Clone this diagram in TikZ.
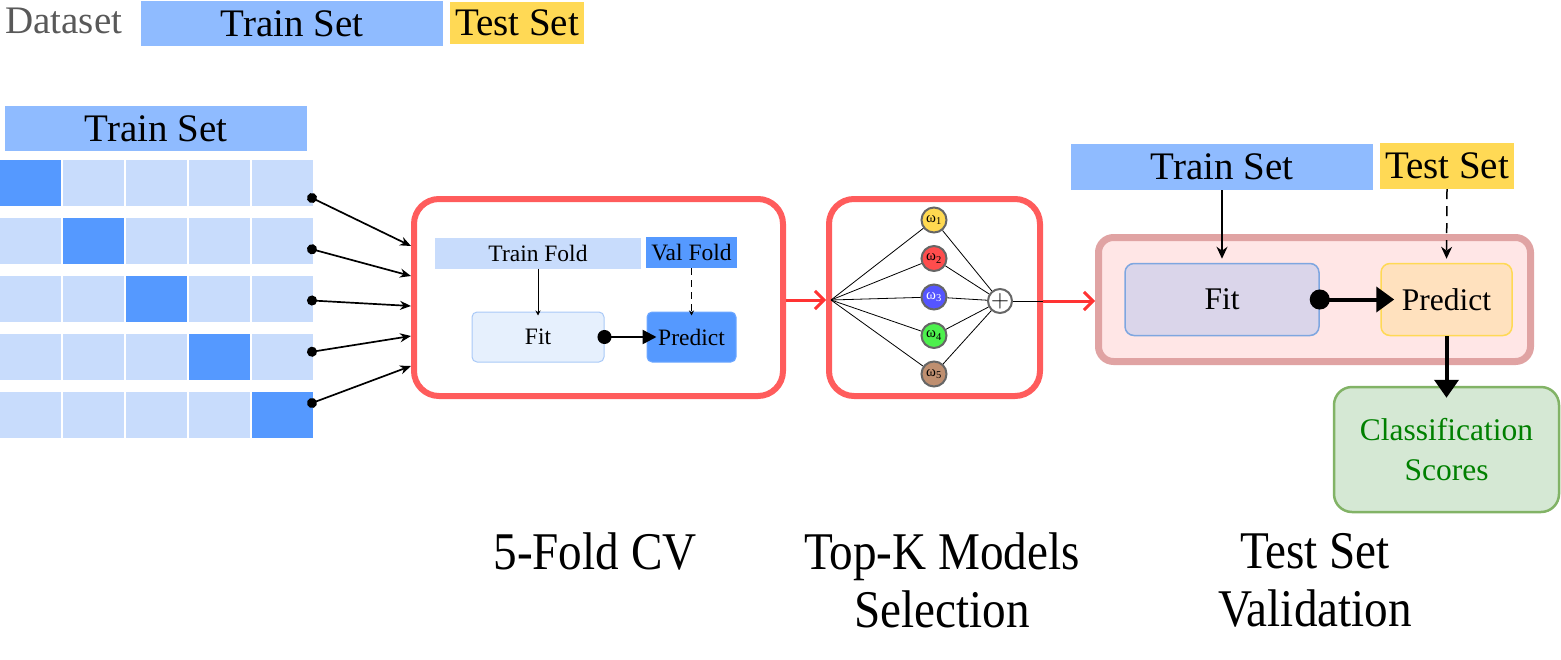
\documentclass[tikz,border=0pt]{standalone}
\usepackage{fontspec}
\setmainfont{Liberation Serif}
\newfontfamily\narrowserif[FakeStretch=0.89]{Liberation Serif}
\usetikzlibrary{arrows.meta, positioning, calc}

\definecolor{trainblue}{RGB}{143,187,255}
\definecolor{foldlight}{RGB}{200,220,252}
\definecolor{folddark}{RGB}{85,153,255}
\definecolor{testyellow}{RGB}{255,217,85}
\definecolor{stagered}{RGB}{255,92,92}
\definecolor{flowred}{RGB}{255,51,51}
\definecolor{evalfill}{RGB}{255,230,230}
\definecolor{evalborder}{RGB}{224,163,163}
\definecolor{fitfill}{RGB}{230,240,253}
\definecolor{fitborder}{RGB}{169,201,247}
\definecolor{lavender}{RGB}{218,213,234}
\definecolor{lavborder}{RGB}{126,166,224}
\definecolor{peach}{RGB}{255,225,190}
\definecolor{scorefill}{RGB}{213,232,212}
\definecolor{scoreborder}{RGB}{130,179,102}
\definecolor{scoretext}{RGB}{0,128,0}
\definecolor{mYellow}{RGB}{255,217,80}
\definecolor{mRed}{RGB}{255,77,77}
\definecolor{mBlue}{RGB}{85,85,255}
\definecolor{mGreen}{RGB}{77,240,77}
\definecolor{mBrown}{RGB}{191,143,112}

\begin{document}
\begin{tikzpicture}[x=1pt, y=-1pt,
    bar/.style={inner sep=0pt, font=\fontsize{39}{39}\selectfont},
    cell/.style={minimum width=61pt, minimum height=46pt, inner sep=0pt},
    stage/.style={draw=stagered, line width=6pt, rounded corners=25pt, minimum height=197pt},
    smallbox/.style={inner sep=0pt, minimum height=31pt, font=\fontsize{23.5}{24}\selectfont},
    bigbox/.style={inner sep=0pt, minimum height=72pt, rounded corners=9pt, line width=1.5pt, font=\fontsize{31.5}{32}\selectfont},
    model/.style={circle, draw=black!60, line width=2pt, minimum size=25pt, inner sep=0pt, font=\fontsize{15}{15}\selectfont},
    flow/.style={draw=flowred, line width=3pt, -{Straight Barb[length=9pt, width=18pt]}},
    caption/.style={font=\narrowserif\fontsize{53}{58}\selectfont, align=center, anchor=north, inner sep=0pt},
]
    \useasboundingbox (0,0) rectangle (1561,659);

    % Dataset split
    \node[anchor=base west, inner sep=0pt, text=black!65, font=\fontsize{39}{39}\selectfont] (dsLabel) at (5,33) {Dataset};
    \node[bar, fill=trainblue, minimum width=302pt, minimum height=45pt] (dsTrain) at (292,23.5) {Train Set};
    \node[bar, fill=testyellow, minimum width=134pt, minimum height=42pt] (dsTest) at (517,23) {Test Set};

    % Train set cut into 5 folds
    \node[bar, fill=trainblue, minimum width=302pt, minimum height=45pt] (cvTrain) at (156,128.5) {Train Set};
    \foreach \r in {1,...,5} {
        \foreach \c in {1,...,5} {
            \ifnum\r=\c \def\shade{folddark}\else\def\shade{foldlight}\fi
            \node[cell, fill=\shade] (cell-\r-\c) at ({30+63*(\c-1)}, {183+58*(\r-1)}) {};
        }
    }

    % Stage 1: 5-fold CV
    \node[stage, minimum width=369pt] (cv) at (598.5,297.5) {};
    \node[smallbox, fill=foldlight, minimum width=206pt] (trainFold) at (538,253) {Train Fold};
    \node[smallbox, fill=folddark, minimum width=91pt] (valFold) at (691.5,252.5) {Val Fold};
    \node[smallbox, minimum width=132pt, minimum height=50pt, fill=fitfill, draw=fitborder, line width=1pt, rounded corners=5pt] (cvFit) at (538,337) {Fit};
    \node[smallbox, minimum width=89pt, minimum height=50pt, fill=folddark, draw=folddark!85!white, line width=1pt, rounded corners=5pt] (cvPredict) at (691.5,337) {Predict};

    % folds into stage 1
    \foreach \r in {1,...,5} {
        \coordinate (src-\r) at (312, {198+51.25*(\r-1)});
        \draw[line width=1.7pt, {Circle[length=10pt]}-{Stealth[length=11pt, width=9pt]}, shorten <=-5pt]
            (src-\r) -- ([yshift={51.5pt-30pt*(\r-1)}]cv.west);
    }
    \draw[line width=1pt, -{Stealth[length=5pt, width=5pt]}, shorten >=-4pt] (trainFold.south) -- (cvFit.north);
    \draw[line width=1pt, dash pattern=on 7pt off 5pt, -{Stealth[length=5pt, width=5pt]}, shorten >=-4pt] (valFold.south) -- (cvPredict.north);
    \draw[line width=2.5pt, {Circle[length=14pt]}-{Triangle[length=14pt, width=14pt]}, shorten <=-7pt, shorten >=-10pt] (cvFit) -- (cvPredict);

    % Stage 2: top-K models
    \node[stage, minimum width=211pt] (sel) at (934.5,297.5) {};
    \coordinate (hub) at (831,300);
    \foreach \i/\col/\txt in {1/mYellow/black, 2/mRed/black, 3/mBlue/white, 4/mGreen/black, 5/mBrown/black} {
        \node[model, fill=\col, text=\txt] (m\i) at (934, {220+38.5*(\i-1)}) {ω\textsubscript{\i}};
    }
    \node[model, fill=white, minimum size=24pt, font=\fontsize{26}{26}\selectfont] (sum) at (1000,301) {$+$};
    \foreach \i in {1,...,5} \draw[line width=0.8pt] (hub) -- (m\i) -- (sum);
    \draw[line width=0.8pt] (sum) -- (sel.east |- sum);
    \draw[flow] (cv.east |- hub) -- (sel.west |- hub);

    % Stage 3: test set validation
    \node[draw=evalborder, fill=evalfill, line width=7pt, rounded corners=15pt, minimum width=432pt, minimum height=124pt] (eval) at (1314.5,299.5) {};
    \draw[flow] (sel.east |- sum) -- (eval.west |- sum);
    \node[bigbox, fill=lavender, draw=lavborder, minimum width=194pt] (tFit) at (1222,299.5) {Fit};
    \node[bigbox, fill=peach, draw=testyellow, minimum width=131pt] (tPredict) at (1446.5,299.5) {Predict};
    \node[bar, fill=trainblue, minimum width=302pt, minimum height=46pt] (tTrain) at (1222,167) {Train Set};
    \node[bar, fill=testyellow, minimum width=134pt, minimum height=46pt] (tTest) at (1447,166) {Test Set};
    \node[draw=scoreborder, fill=scorefill, line width=2.5pt, rounded corners=18pt, minimum width=225pt, minimum height=125pt,
        align=center, text=scoretext, font=\fontsize{31.5}{40}\selectfont] (scores) at (1446.5,449.5) {Classification\\Scores};

    \draw[line width=1.5pt, -{Stealth[length=12pt, width=11pt]}, shorten >=4pt] (tTrain.south) -- (tFit.north);
    \draw[line width=1.5pt, dash pattern=on 10pt off 7pt, -{Stealth[length=12pt, width=11pt]}, shorten >=4pt] (tTest.south) -- (tPredict.north);
    \draw[line width=4pt, {Circle[length=20pt]}-{Triangle[length=18pt, width=25pt]}, shorten <=-10pt, shorten >=-14pt] (tFit) -- (tPredict);
    \draw[line width=4pt, -{Triangle[length=18pt, width=24pt]}, shorten >=-12pt] (tPredict) -- (scores);

    % Stage captions
    \node[caption] (capCV) at (595,533) {5-Fold CV};
    \node[caption] (capSel) at (942,533) {Top-K Models\\Selection};
    \node[caption] (capTest) at (1315,533) {Test Set\\Validation};
\end{tikzpicture}
\end{document}
